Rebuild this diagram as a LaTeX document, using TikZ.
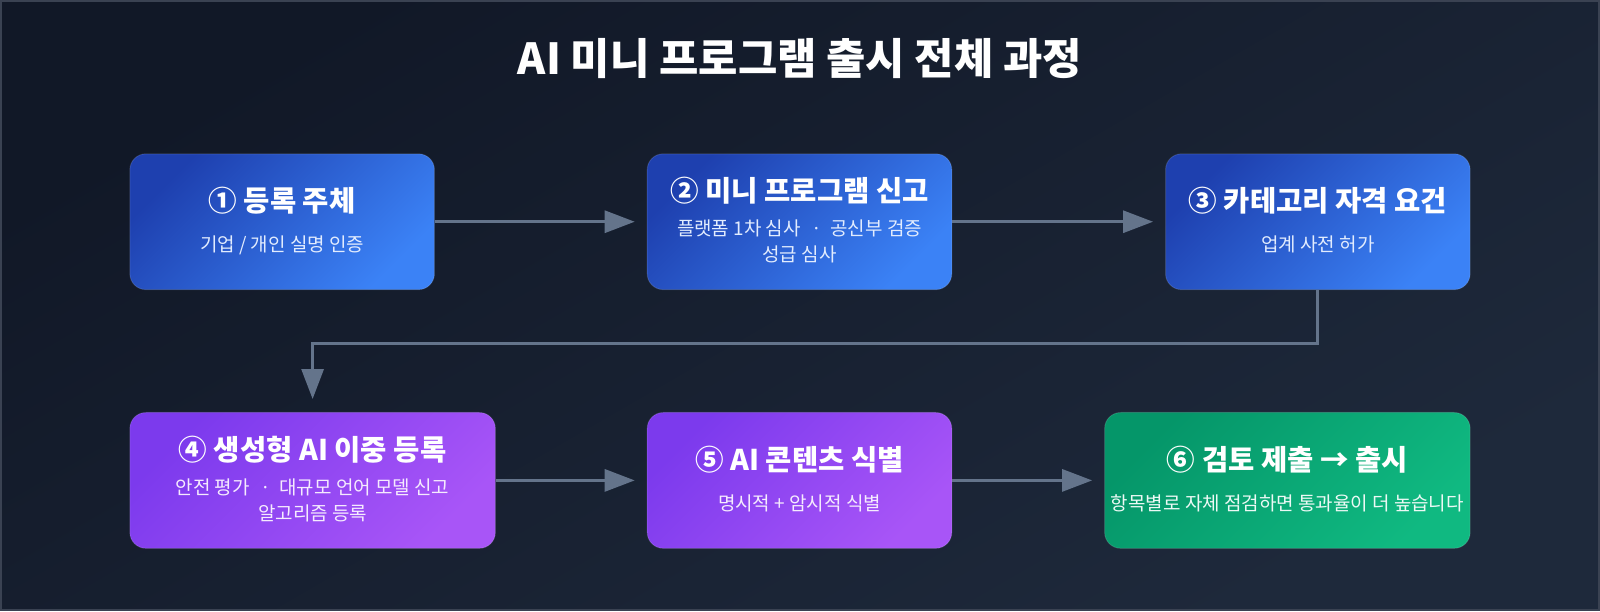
\documentclass[tikz,border=0pt]{standalone}
\usepackage{fontspec}
\setmainfont{Noto Sans CJK KR}
\usepackage{tikz}
\usetikzlibrary{arrows.meta,positioning}
\usepackage{xcolor}
\definecolor{bgtop}{HTML}{111827}
\definecolor{bgbot}{HTML}{1E293B}
\definecolor{frameline}{HTML}{3A4252}
\definecolor{blueA}{HTML}{1E40AF}
\definecolor{blueB}{HTML}{3B82F6}
\definecolor{violetA}{HTML}{7C3AED}
\definecolor{violetB}{HTML}{A855F7}
\definecolor{greenA}{HTML}{059669}
\definecolor{greenB}{HTML}{10B981}
\definecolor{arrowgray}{HTML}{64748B}
\newcommand{\boxhead}[1]{{\fontsize{14.3}{16}\selectfont\bfseries #1}}
\newcommand{\dotsep}{\hspace{0.55em}·\hspace{0.45em}}

\begin{document}
\begin{tikzpicture}[x=0.5pt, y=-0.5pt,
    stepbox/.style={rectangle, rounded corners=8pt, minimum width=152.5pt,
                minimum height=68pt, inner sep=0pt, align=center, text=white,
                draw=white, draw opacity=0.12, line width=0.5pt,
                font=\fontsize{9.5}{13}\selectfont},
    wide/.style={minimum width=183pt},
    bluebox/.style={stepbox, top color=blueA, bottom color=blueB, shading angle=45},
    violetbox/.style={stepbox, top color=violetA, bottom color=violetB, shading angle=45},
    greenbox/.style={stepbox, top color=greenA, bottom color=greenB, shading angle=45},
    arr/.style={-{Triangle[length=15pt, width=11pt]}, line width=1.5pt, arrowgray, shorten >=6pt}]
    % background
    \shade[top color=bgtop, bottom color=bgbot, shading angle=30] (0,0) rectangle (1600,610);
    \draw[frameline, line width=1pt] (0,0) rectangle (1600,610);
    \useasboundingbox (0,0) rectangle (1600,610);
    \node[font=\fontsize{21.4}{25}\selectfont\bfseries, text=white] (title) at (800,58)
        {AI 미니 프로그램 출시 전체 과정};
    % first row
    \node[bluebox, text depth=2pt] (reg) at (281.5,221)
        {\boxhead{① 등록 주체}\\[7pt]\textcolor{white!85!blueB}{기업 / 개인 실명 인증}};
    \node[bluebox, text depth=2pt] (mini) at (799.5,221)
        {\boxhead{② 미니 프로그램 신고}\\[4pt]\textcolor{white!85!blueB}{플랫폼 1차 심사\dotsep 공신부 검증}\\
         \textcolor{white!85!blueB}{성급 심사}};
    \node[bluebox, text depth=2pt] (cat) at (1318.5,221)
        {\boxhead{③ 카테고리 자격 요건}\\[7pt]\textcolor{white!85!blueB}{업계 사전 허가}};
    % second row
    \node[violetbox, wide, text depth=2pt] (gen) at (312,480)
        {\boxhead{④ 생성형 AI 이중 등록}\\[4pt]\textcolor{white!88!violetB}{안전 평가\dotsep 대규모 언어 모델 신고}\\
         \textcolor{white!88!violetB}{알고리즘 등록}};
    \node[violetbox, text depth=2pt] (mark) at (799.5,480)
        {\boxhead{⑤ AI 콘텐츠 식별}\\[7pt]\textcolor{white!88!violetB}{명시적 + 암시적 식별}};
    \node[greenbox, wide, text depth=2pt] (launch) at (1288,480)
        {\boxhead{⑥ 검토 제출 → 출시}\\[7pt]\textcolor{white!92!greenB}{항목별로 자체 점검하면 통과율이 더 높습니다}};
    % connectors
    \coordinate (turn) at (312,343);
    \draw[arr] (reg) -- (mini);
    \draw[arr] (mini) -- (cat);
    \draw[arr, shorten >=6.5pt] (cat.south) |- (turn) -- (gen.north);
    \draw[arr] (gen) -- (mark);
    \draw[arr] (mark) -- (launch);
\end{tikzpicture}
\end{document}
